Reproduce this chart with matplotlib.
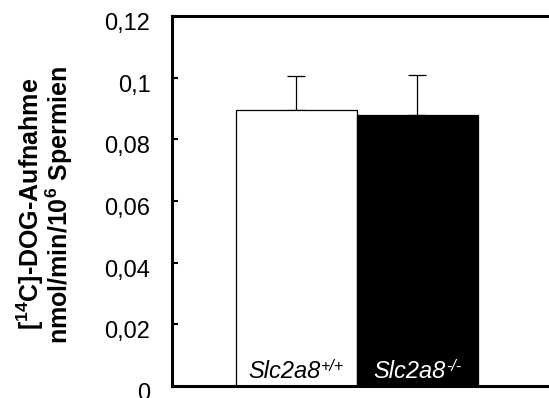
import matplotlib
matplotlib.use("Agg")
import matplotlib.pyplot as plt
from matplotlib.transforms import ScaledTranslation

plt.rcParams['font.family'] = ['Liberation Sans', 'DejaVu Sans']
plt.rcParams['mathtext.fontset'] = 'custom'
plt.rcParams['mathtext.rm'] = 'Liberation Sans'
plt.rcParams['mathtext.it'] = 'Liberation Sans:italic'
plt.rcParams['mathtext.bf'] = 'Liberation Sans:bold'

# data
categories = ['Slc2a8', 'Slc2a8']
genotypes = ['+/+', '-/-']
values = [0.0894, 0.0880]
errors = [0.0112, 0.0128]
yticks = [0, 0.02, 0.04, 0.06, 0.08, 0.10, 0.12]
ytick_labels = ['0', '0,02', '0,04', '0,06', '0,08', '0,1', '0,12']
ylabel_lines = ['[$^{\\mathbf{14}}$C]-DOG-Aufnahme', 'nmol/min/10$^{\\mathbf{6}}$ Spermien']

fig = plt.figure(figsize=(5.49, 3.98), dpi=100)
ax = fig.add_axes([172/549, 12/398, 377/549, 370/398])

x = list(range(len(values)))
face = ['white', 'black']
txtcol = ['black', 'white']
ax.bar(x, values, width=1.0, color=face, edgecolor='black', linewidth=0.9, zorder=2)
ax.errorbar(x, values, yerr=[[0, 0], errors], fmt='none', ecolor='black',
            elinewidth=0.9, capsize=6.5, capthick=0.9, zorder=1)

ax.set_xlim(-1.029, 2.087)
ax.set_ylim(0, 0.12)
ax.set_yticks(yticks)
ax.set_yticklabels(ytick_labels)
ax.set_xticks([])
ax.tick_params(axis='y', direction='in', length=4, width=1.5, pad=15.5, labelsize=17)
for s in ['left', 'top', 'bottom']:
    ax.spines[s].set_linewidth(2.2)
ax.spines['right'].set_visible(False)

off = ScaledTranslation(0, -4.0/72, fig.dpi_scale_trans)
for lab in ax.get_yticklabels():
    lab.set_transform(lab.get_transform() + off)

# y label as two lines
fig.text(39/549, 1 - 204/398, ylabel_lines[0], rotation=90, rotation_mode='anchor',
         ha='center', va='baseline', fontsize=18, fontweight='bold')
fig.text(68/549, 1 - 205/398, ylabel_lines[1], rotation=90, rotation_mode='anchor',
         ha='center', va='baseline', fontsize=18, fontweight='bold')

# bar labels
bases, sups = [], []
for xi, cat, g, c in zip(x, categories, genotypes, txtcol):
    b = ax.text(xi, 0.0026, cat, ha='center', va='baseline', color=c,
                fontsize=17, style='italic', zorder=3)
    s = ax.annotate(g, xy=(1, 1), xycoords=b, xytext=(0.3, 0.5), textcoords='offset points',
                    ha='left', va='top', color=c, fontsize=11.5, style='italic', zorder=3)
    bases.append(b)
    sups.append(s)

fig.canvas.draw()
r = fig.canvas.get_renderer()
for b, s in zip(bases, sups):
    ws = s.get_window_extent(r).width
    b.set_transform(ax.transData + ScaledTranslation(-ws / 2 / fig.dpi, 0, fig.dpi_scale_trans))

fig.savefig('out.png', dpi=100)
